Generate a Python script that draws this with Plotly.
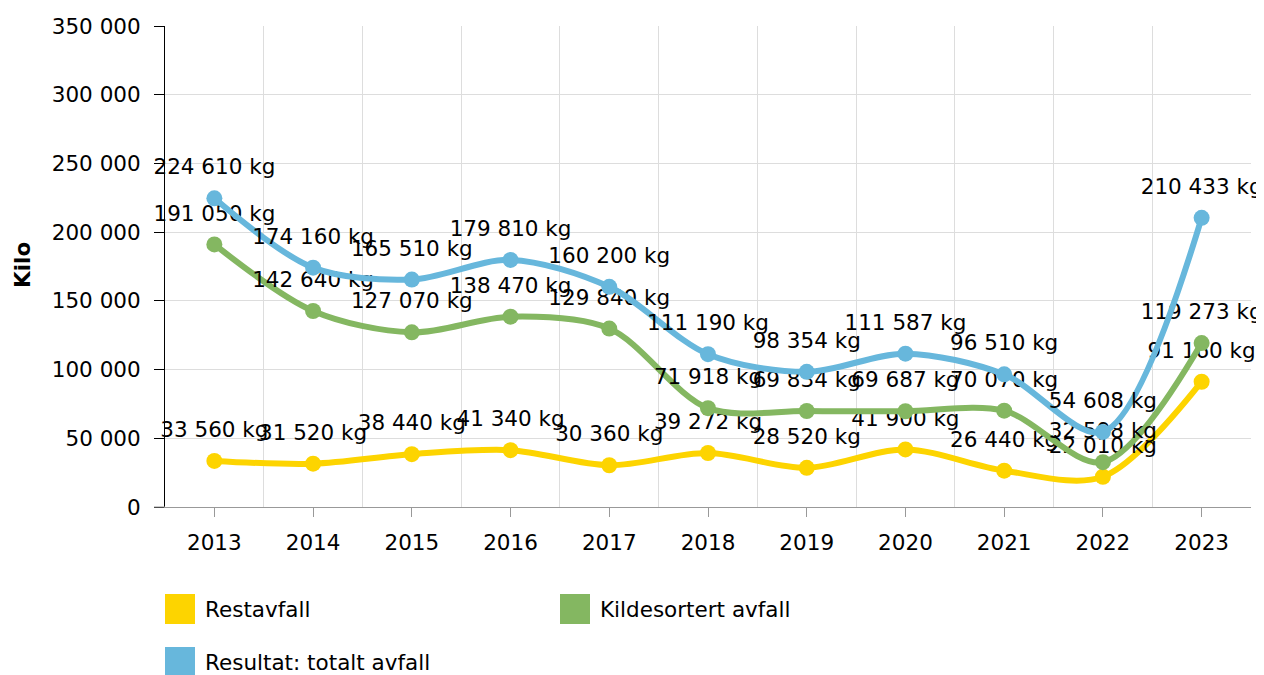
import plotly.graph_objects as go

years = ["2013", "2014", "2015", "2016", "2017", "2018", "2019", "2020", "2021", "2022", "2023"]
restavfall = [33560, 31520, 38440, 41340, 30360, 39272, 28520, 41900, 26440, 22010, 91160]
kildesortert = [191050, 142640, 127070, 138470, 129840, 71918, 69834, 69687, 70070, 32598, 119273]
totalt = [224610, 174160, 165510, 179810, 160200, 111190, 98354, 111587, 96510, 54608, 210433]

names = ["Restavfall", "Kildesortert avfall", "Resultat: totalt avfall"]
colors = ["#FDD400", "#84B761", "#67B7DC"]
series = [restavfall, kildesortert, totalt]

FONT = "DejaVu Sans, Verdana, sans-serif"
FS = 21.5

x = list(range(len(years)))

def fmt(v):
    return f"{v:,}".replace(",", " ") + " kg"

fig = go.Figure()
for name, col, vals in zip(names, colors, series):
    fig.add_trace(go.Scatter(
        x=x, y=vals, name=name, mode="lines+markers",
        line=dict(color=col, width=6, shape="spline", smoothing=0.9),
        marker=dict(color=col, size=16),
        showlegend=False, hoverinfo="skip",
    ))
    fig.add_trace(go.Scatter(
        x=x, y=vals, mode="markers+text",
        text=[fmt(v) for v in vals], textposition="top center",
        textfont=dict(family=FONT, size=FS, color="#000000"),
        marker=dict(size=28, color="rgba(0,0,0,0)"),
        cliponaxis=False,
        showlegend=False, hoverinfo="skip",
    ))

# page body adds an 8px margin, so the figure is sized to fill the window exactly
fig.update_layout(
    width=1256, height=667,
    margin=dict(l=157, r=13, t=18, b=168, autoexpand=False),
    paper_bgcolor="white", plot_bgcolor="white",
    font=dict(family=FONT, size=FS, color="#000000"),
    separators=". ",
    showlegend=False,
)

fig.update_xaxes(
    range=[-0.5, 10.5], automargin=False,
    tickmode="array", tickvals=x, ticktext=years,
    ticks="outside", ticklen=9, tickcolor="#999999", tickwidth=1,
    ticklabelstandoff=7,
    showgrid=False, showline=True, linecolor="#999999", linewidth=1,
    zeroline=False,
    minor=dict(tickmode="array", tickvals=[i - 0.5 for i in range(len(years) + 1)],
               showgrid=True, gridcolor="#DDDDDD", gridwidth=1, ticks=""),
    tickfont=dict(family=FONT, size=FS),
)
fig.update_yaxes(
    range=[0, 350000], dtick=50000, tickformat=",d", automargin=False,
    ticks="outside", ticklen=10, tickcolor="#000000",
    ticklabelstandoff=9,
    showgrid=True, gridcolor="#DDDDDD", gridwidth=1,
    showline=True, linecolor="#000000", linewidth=1,
    zeroline=False,
    tickfont=dict(family=FONT, size=FS),
)

W, H = 1086.0, 481.0
def px(xp):
    return (xp - 165) / W
def py(yp):
    return (507 - yp) / H

# x-axis baseline extends slightly left of the y axis
fig.add_shape(type="line", xref="paper", yref="paper",
              x0=px(154), x1=0, y0=0, y1=0, line=dict(color="#999999", width=1))

# Y-axis title
fig.add_annotation(text="<b>Kilo</b>", xref="paper", yref="paper",
                   x=px(22), y=py(265), xanchor="center", yanchor="middle",
                   showarrow=False, textangle=-90,
                   font=dict(family=FONT, size=FS, color="#000000"))

# Custom legend (square swatches)
legend_pos = [(165, 594, 203, 609), (560, 594, 598, 609), (165, 647, 203, 662)]
for (sx, sy, tx, ty), name, col in zip(legend_pos, names, colors):
    fig.add_shape(type="rect", xref="paper", yref="paper",
                  x0=px(sx), x1=px(sx + 30), y0=py(sy), y1=py(sy + 30),
                  fillcolor=col, line=dict(width=0))
    fig.add_annotation(text=name, xref="paper", yref="paper",
                       x=px(tx), y=py(ty), xanchor="left", yanchor="middle",
                       showarrow=False, font=dict(family=FONT, size=FS, color="#000000"))

fig.write_html("out.html")
